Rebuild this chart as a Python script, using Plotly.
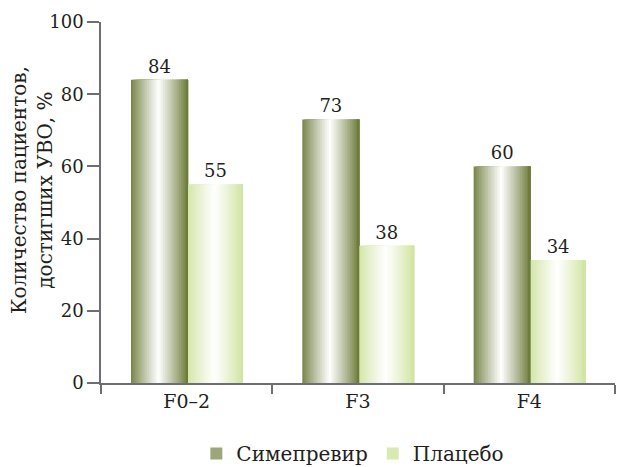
import plotly.graph_objects as go

# Data
categories = ["F0–2", "F3", "F4"]
simeprevir = [84, 73, 60]
placebo = [55, 38, 34]
series_names = ["Симепревир", "Плацебо"]
y_title = "Количество пациентов,<br>достигших УВО, %"

FONT = "DejaVu Serif"
TEXT = "#231f20"
AXIS = "#6d6e71"


def mix(c1, c2, t):
    return "rgb(%d,%d,%d)" % tuple(round(a + (b - a) * t) for a, b in zip(c1, c2))


def cylinder_bar(fig, values, edge_rgb, start, width, n=32):
    """Draw bars as overlapping strips whose colour goes edge -> white -> edge."""
    white = (255, 255, 255)
    step = width / n
    for k in range(n):
        t = (k + 0.5) / n
        d = abs(t - 0.48) / 0.52
        w = max(0.0, 1 - d) ** 0.9
        # each strip runs to the bar's right edge, so later strips cover earlier ones
        fig.add_trace(go.Bar(
            x=categories, y=values, width=width - k * step, offset=start + k * step,
            marker=dict(color=mix(edge_rgb, white, w), line=dict(width=0)),
            showlegend=False, hoverinfo="skip",
        ))


fig = go.Figure()

bar_w = 0.333
dark = (104, 118, 50)
light = (208, 227, 158)

cylinder_bar(fig, simeprevir, dark, -0.325, bar_w)
cylinder_bar(fig, placebo, light, 0.008, bar_w * 0.96)

# value labels above the bars
for vals, start, w in [(simeprevir, -0.325, bar_w), (placebo, 0.008, bar_w * 0.96)]:
    fig.add_trace(go.Bar(
        x=categories, y=vals, width=w, offset=start,
        marker=dict(color="rgba(0,0,0,0)", line=dict(width=0)),
        text=[str(v) for v in vals], textposition="outside",
        constraintext="none", cliponaxis=False,
        textfont=dict(family=FONT, size=18, color=TEXT),
        showlegend=False, hoverinfo="skip",
    ))

# legend entries
for name, col in zip(series_names, [mix(dark, (255, 255, 255), 0.35), mix(light, (255, 255, 255), 0.2)]):
    fig.add_trace(go.Bar(
        x=[None], y=[None], name=name,
        marker=dict(color=col, line=dict(width=0)),
    ))

fig.update_layout(
    width=618, height=467,
    margin=dict(l=101, r=3, t=22, b=84, autoexpand=False),
    barmode="overlay",
    plot_bgcolor="white", paper_bgcolor="white",
    font=dict(family=FONT, size=19, color=TEXT),
    legend=dict(
        orientation="h", x=0.49, xanchor="center", y=-0.195, yanchor="middle",
        font=dict(family=FONT, size=20, color=TEXT),
        traceorder="normal",
    ),
    xaxis=dict(
        type="category", range=[-0.5, 2.5], automargin=False,
        showline=True, linecolor=AXIS, linewidth=1.5,
        ticks="outside", ticklen=9, tickcolor=AXIS, tickwidth=1.5,
        tickson="boundaries", showgrid=False,
        tickfont=dict(family=FONT, size=19, color=TEXT),
    ),
    yaxis=dict(
        range=[0, 100], dtick=20, automargin=False,
        showline=True, linecolor=AXIS, linewidth=1.5,
        ticks="outside", ticklen=12, tickcolor=AXIS, tickwidth=1.5,
        showgrid=False, zeroline=False,
        tickfont=dict(family=FONT, size=18, color=TEXT),
    ),
    annotations=[dict(
        text=y_title, textangle=-90, showarrow=False,
        xref="paper", yref="paper", x=-0.134, y=0.535,
        xanchor="center", yanchor="middle",
        font=dict(family=FONT, size=20, color=TEXT),
    )],
)

fig.write_html("out.html")
